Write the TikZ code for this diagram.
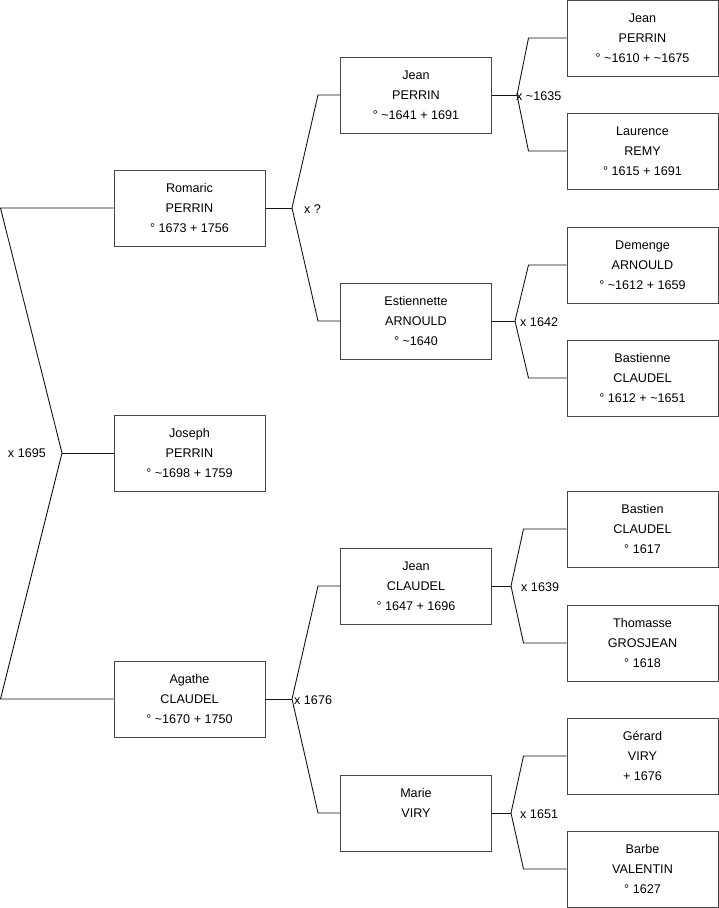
\documentclass[tikz,border=0pt]{standalone}
\usepackage{fontspec}
\setmainfont{Liberation Sans}
\definecolor{boxline}{RGB}{70,70,70}
\definecolor{forkline}{RGB}{20,20,20}

\begin{document}
\begin{tikzpicture}[x=1pt, y=-1pt, every node/.style={font=\fontsize{12.6}{20}\selectfont},
  person/.style={draw=boxline, line width=1pt, minimum width=151pt, minimum height=76pt, inner sep=0pt, align=center},
  link/.style={draw=forkline, line width=0.9pt},
  union/.style={anchor=west, inner sep=0pt}]
\useasboundingbox (0,0) rectangle (719,908);
% generation 0 and 1
\node[person] (rom) at (189.5,208) {Romaric\\PERRIN\\° 1673 + 1756};
\node[person] (jos) at (189.5,453) {Joseph\\PERRIN\\° \textasciitilde1698 + 1759};
\node[person] (aga) at (189.5,699) {Agathe\\CLAUDEL\\° \textasciitilde1670 + 1750};
% generation 2
\node[person] (jpe) at (416,95)  {Jean\\PERRIN\\° \textasciitilde1641 + 1691};
\node[person] (est) at (416,321) {Estiennette\\ARNOULD\\° \textasciitilde1640};
\node[person] (jcl) at (416,586) {Jean\\CLAUDEL\\° 1647 + 1696};
\node[person] (mvi) at (416,813) {Marie\\VIRY\\\mbox{}};
% generation 3
\node[person] (jpa) at (642.5,38)  {Jean\\PERRIN\\° \textasciitilde1610 + \textasciitilde1675};
\node[person] (lre) at (642.5,151) {Laurence\\REMY\\° 1615 + 1691};
\node[person] (dem) at (642.5,265) {Demenge\\ARNOULD\\° \textasciitilde1612 + 1659};
\node[person] (bas) at (642.5,378) {Bastienne\\CLAUDEL\\° 1612 + \textasciitilde1651};
\node[person] (bcl) at (642.5,529) {Bastien\\CLAUDEL\\° 1617};
\node[person] (tgr) at (642.5,643) {Thomasse\\GROSJEAN\\° 1618};
\node[person] (gvi) at (642.5,756) {Gérard\\VIRY\\+ 1676};
\node[person] (bva) at (642.5,869) {Barbe\\VALENTIN\\° 1627};

% the marriage of Joseph's parents
\coordinate (u0) at (62,453);
\draw[link] (jos.west) -- (u0);
\draw[link] (rom.west) -- ([xshift=-113pt]rom.west) -- (u0) -- ([xshift=-113pt]aga.west) -- (aga.west);
\node[union, anchor=east] (l0) at ([xshift=-16pt]u0) {x 1695};

% the other marriages
\foreach \c/\f/\m/\ux/\arm/\txt/\dx in {
  rom/jpe/est/292/22/{x ?}/12,
  aga/jcl/mvi/292/22/{x 1676}/2,
  jpe/jpa/lre/517/38/{x \textasciitilde1635}/-1,
  est/dem/bas/515/38/{x 1642}/5,
  jcl/bcl/tgr/511/43/{x 1639}/10,
  mvi/gvi/bva/511/43/{x 1651}/9} {
  \coordinate (u\c) at (\ux,0 |- \c.east);
  \draw[link] (\c.east) -- (u\c);
  \draw[link] (\f.west) -- ([xshift=-\arm pt]\f.west) -- (u\c) -- ([xshift=-\arm pt]\m.west) -- (\m.west);
  \node[union] (l\c) at ([xshift=\dx pt, yshift=-1pt]u\c) {\txt};
}
\end{tikzpicture}
\end{document}
